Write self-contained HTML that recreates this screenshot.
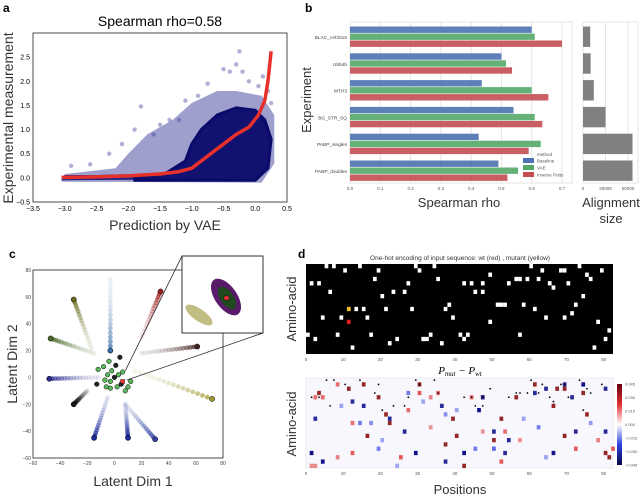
<!DOCTYPE html>
<html><head><meta charset="utf-8">
<style>
html,body{margin:0;padding:0;background:#fff;}
svg{display:block;font-family:"Liberation Sans",sans-serif;}
</style></head>
<body>
<svg id="fig" width="640" height="498" viewBox="0 0 640 498" xmlns="http://www.w3.org/2000/svg">
<rect width="640" height="498" fill="#fff"/>
<g id="pa"></g>
<g id="pb"></g>
<g id="pc"></g>
<g id="pd"></g>
</svg>
<script>
// ---------- data ----------
// panel a
const aDense=[[-1.9,0.0],[-1.4,0.1],[-1.1,0.35],[-1.0,0.7],[-0.85,1.0],[-0.6,1.3],[-0.3,1.45],[0.0,1.4],[0.15,1.2],[0.25,0.8],[0.2,0.2],[0.0,-0.05],[-1.9,-0.05]];
const aSparse=[[-3.05,-0.03],[-3.0,0.08],[-2.2,0.2],[-2.0,0.5],[-1.7,0.9],[-1.3,1.2],[-1.0,1.55],[-0.6,1.8],[-0.3,1.8],[0.1,1.7],[0.3,1.3],[0.3,0.3],[0.1,-0.1],[-3.05,-0.08]];
const aBand=[[-3.05,-0.03],[-3.0,0.06],[-2.5,0.06],[-1.9,0.08],[-1.9,-0.04],[-3.05,-0.05]];
const aOutliers=[[-0.25,2.62],[-0.4,2.2],[-0.3,2.35],[-0.1,2.0],[0.05,1.9],[-1.8,1.48],[-1.2,1.2],[-1.5,1.1],[-2.1,0.7],[-2.6,0.28],[-2.9,0.25],[0.25,1.55],[0.12,2.1],[-0.5,2.25],[-0.75,1.95],[-0.9,1.7],[-1.35,1.2],[-1.9,1.0],[-1.6,0.9],[-2.3,0.5],[0.2,1.8],[-0.2,2.2],[-1.1,1.6]];
const aLineX=[-3.05,-2.5,-2.0,-1.5,-1.2,-1.0,-0.8,-0.5,-0.3,-0.1,0.05,0.15,0.2,0.25];
const aLineY=[0.01,0.02,0.04,0.08,0.13,0.2,0.4,0.7,0.9,1.05,1.3,1.6,2.0,2.62];
const aXTicks=[-3.5,-3.0,-2.5,-2.0,-1.5,-1.0,-0.5,0.0,0.5];
const aYTicks=[-0.5,0.0,0.5,1.0,1.5,2.0,2.5];
// panel b
const bCats=["BLAC_cef2015","Ubb4b","MTH3","BG_STR_SQ","PABP_singles","PABP_doubles"];
const bBaseline=[0.60,0.50,0.435,0.54,0.425,0.49];
const bVAE=[0.61,0.515,0.60,0.61,0.63,0.555];
const bInverse=[0.70,0.535,0.655,0.635,0.59,0.52];
const bAlign=[8000,8500,12000,25000,55000,55000];
const bXTicks=[0,0.1,0.2,0.3,0.4,0.5,0.6,0.7];
const bAlignTicks=[0,25000,50000];
// panel c arms: [x1,y1,x2,y2,color]
const cArms=[[-3,20,-3,73,"#3a6fa8"],[-30,58,-17,22,"#6b6b20"],[-47,29,-15,18,"#4a6a2a"],[-48,-1,-12,0,"#2a2a90"],[-30,-20,-20,-10,"#111"],[-15,-45,-5,-15,"#1a2a9a"],[10,-45,8,-20,"#1a2a9a"],[30,-46,8,-20,"#3040a0"],[72,-16,15,5,"#a09a30"],[61,23,20,18,"#442222"],[34,64,20,30,"#a02020"]];
const cCenter=[[0,0],[-3,-3],[3,2],[-5,2],[5,-5],[2,-7],[-2,5],[-6,-7],[1,9],[-3,-8],[6,4],[-7,-2],[-13,-5],[-12,6],[8,-10],[-4,12],[4,15],[10,-7],[12,-3],[-8,8]];
const cXTicks=[-60,-40,-20,0,20,40,60,80];
const cYTicks=[-60,-40,-20,0,20,40,60,80];
// panel d top: white cells [pos,row]
const dWhite=[[5,0],[7,0],[10,1],[14,0],[19,1],[29,0],[30,1],[34,0],[18,3],[1,4],[3,4],[27,4],[6,6],[23,6],[26,6],[20,7],[35,3],[42,4],[44,4],[47,4],[49,2],[45,6],[47,6],[54,4],[56,3],[57,3],[59,3],[62,3],[60,0],[63,1],[68,1],[69,1],[73,0],[75,2],[76,3],[79,1],[65,4],[66,5],[70,4],[74,7],[51,9],[52,9],[53,9],[58,9],[61,10],[72,9],[71,11],[64,12],[69,12],[78,13],[13,10],[15,10],[21,10],[28,10],[37,10],[38,9],[4,12],[9,12],[16,12],[39,12],[49,13],[0,16],[2,17],[8,16],[17,16],[31,17],[32,17],[33,16],[41,16],[43,16],[42,17],[24,17],[22,18],[36,18],[12,19],[57,16],[77,19],[80,17],[81,15]];
const dMutant=[11,10];
const dWt=[11,13];
// panel d bottom: [pos,row,value]
const dRed=[[2.6,3,0.03],[7.7,1,0.02],[14.6,1,0.03],[10.7,2,0.03],[18.7,4,0.03],[21,8,0.03],[16.4,13,0.03],[21.5,10,0.03],[26.7,7,0.02],[29.5,1,0.03],[29.7,3,0.025],[36.8,15,0.03],[34.7,3,0.02],[38.6,9,0.03],[39.5,13,0.03],[41.5,20,0.03],[46.6,4,0.02],[49.5,14,0.03],[51.5,9,0.03],[55.6,4,0.03],[60.7,1,0.03],[66.9,2,0.03],[66.4,6,0.03],[68.5,2,0.03],[73.6,3,0.03],[74.5,8,0.03],[69.3,13,0.03],[71.5,16,0.025],[79.8,17,0.03],[80.7,18,0.03],[81.6,16,0.025],[12.3,17,0.025],[24.6,18,0.025],[52.4,19,0.025],[53.4,12,0.02],[1,20,0.012],[2,20,0.012],[12,10,0.02],[1.6,4,0.02],[3.5,4,0.02],[32.6,4,0.015],[44.2,4,0.02],[8,18,0.015],[33,11,0.01],[57,14,0.012],[47,12,0.01],[78,14,0.015]];
const dBlue=[[3.7,19,0.035],[11.5,5,0.03],[14.6,6,0.03],[21.5,9,0.03],[25.8,12,0.03],[28.8,17,0.035],[35.9,6,0.03],[36.5,19,0.03],[41.5,17,0.035],[47.1,4,0.03],[45.5,7,0.035],[50,12,0.03],[52.6,17,0.03],[53.7,14,0.03],[60.7,3,0.03],[63.8,2,0.03],[68.6,1,0.03],[73.7,1,0.035],[70.5,4,0.03],[66.4,17,0.035],[72.2,12,0.03],[79.5,12,0.03],[79.8,2,0.03],[61.7,11,0.02],[0.7,17,0.035],[1.8,9,0.03],[13.7,10,0.02],[17.1,10,0.015],[18.7,16,0.02],[26.9,3,0.02],[36.7,8,0.015],[45,16,0.02],[50.2,16,0.025],[9,6,0.01],[20,14,0.01],[31,5,0.01],[40,7,0.01],[58,9,0.01],[76,10,0.012],[64,18,0.01],[24,20,0.01]];
const cbTicks=[0.045,0.03,0.015,0,-0.015,-0.03,-0.045];

// ---------- helpers ----------
const NS="http://www.w3.org/2000/svg";
function mk(parent,tag,attrs,text){const e=document.createElementNS(NS,tag);for(const k in attrs)e.setAttribute(k,attrs[k]);if(text!==undefined)e.textContent=text;parent.appendChild(e);return e;}
function lin(d0,d1,r0,r1){return v=>r0+(v-d0)/(d1-d0)*(r1-r0);}

// ---------- panel a ----------
(function(){
const g=document.getElementById('pa');
const X=lin(-3.5,0.5,33,287),Y=lin(-0.5,3.0,202,33);
let t=mk(g,'text',{x:3,y:12,'font-size':12,'font-weight':'bold'},'a');
t=mk(g,'text',{x:160,y:26,'font-size':14,'text-anchor':'middle'},'Spearman rho=0.58');
let p=mk(g,'polygon',{points:aSparse.map(d=>X(d[0])+','+Y(d[1])).join(' '),fill:'#2a2a90','fill-opacity':0.45});
p=mk(g,'polygon',{points:aBand.map(d=>X(d[0])+','+Y(d[1])).join(' '),fill:'#0a0a70','fill-opacity':0.8});
p=mk(g,'polygon',{points:aDense.map(d=>X(d[0])+','+Y(d[1])).join(' '),fill:'#0a0a6a','fill-opacity':0.95,'stroke':'#0a0a6a','stroke-width':3,'stroke-linejoin':'round'});
aOutliers.forEach(d=>{const c=mk(g,'circle',{cx:X(d[0]),cy:Y(d[1]),r:2.2,fill:'#3a3a9a','fill-opacity':0.4});});
p=mk(g,'polyline',{points:aLineX.map((x,i)=>X(x)+','+Y(aLineY[i])).join(' '),fill:'none',stroke:'#e8302a','stroke-width':3.5,'stroke-linejoin':'round'});
const fr=mk(g,'rect',{x:33,y:33,width:254,height:169,fill:'none',stroke:'#222','stroke-width':0.8});
aXTicks.forEach(v=>{const l=mk(g,'text',{x:X(v),y:211,'font-size':7,'text-anchor':'middle'},v.toFixed(1).replace('-','−'));});
aYTicks.forEach(v=>{const l=mk(g,'text',{x:30,y:Y(v)+2.5,'font-size':7,'text-anchor':'end'},v.toFixed(1).replace('-','−'));});
t=mk(g,'text',{x:165,y:230,'font-size':14,'text-anchor':'middle',fill:'#333'},'Prediction by VAE');
t=mk(g,'text',{x:0,y:0,'font-size':14,'text-anchor':'middle',fill:'#333',transform:'translate(13,118) rotate(-90)'},'Experimental measurement');
})();

// ---------- panel b ----------
(function(){
const g=document.getElementById('pb');
const X=lin(0,0.7,350,562);
const top=22,band=26.8,bh=7;
let t=mk(g,'text',{x:305,y:12,'font-size':12,'font-weight':'bold'},'b');
mk(g,'rect',{x:350,y:22,width:222,height:161,fill:'#fff',stroke:'#e4e4e4'});
bXTicks.forEach(v=>{mk(g,'line',{x1:X(v),x2:X(v),y1:22,y2:183,stroke:'#e4e4e4','stroke-width':1});const l=mk(g,'text',{x:X(v),y:190,'font-size':4.5,'text-anchor':'middle',fill:'#555'},v.toFixed(1));});
const series=[[bBaseline,'#4c72b0','baseline'],[bVAE,'#55a868','vae'],[bInverse,'#c44e52','inverse-potts']];
bCats.forEach((c,i)=>{
 const y0=top+i*band+4.5;
 series.forEach((s,j)=>{const r=mk(g,'rect',{x:350,y:y0+j*bh,width:X(s[0][i])-350,height:bh-0.6,fill:s[1],'fill-opacity':0.9});});
 const l=mk(g,'text',{x:347,y:y0+bh*1.5+2,'font-size':4.8,'text-anchor':'end',fill:'#444'},c);
});
const lg=mk(g,'g',{});
mk(lg,'text',{x:537,y:156,'font-size':4.5,fill:'#555'},'method');
[['Baseline','#4c72b0'],['VAE','#55a868'],['Inverse Potts','#c44e52']].forEach((s,k)=>{const e=mk(lg,'g',{});mk(e,'rect',{x:523,y:158+k*7,width:11,height:5,fill:s[1]});mk(e,'text',{x:537,y:162.5+k*7,'font-size':4.5,fill:'#555'},s[0]);});
t=mk(g,'text',{x:459,y:207,'font-size':13,'text-anchor':'middle',fill:'#333'},'Spearman rho');
t=mk(g,'text',{x:0,y:0,'font-size':13,'text-anchor':'middle',fill:'#333',transform:'translate(311,100) rotate(-90)'},'Experiment');
const XA=lin(0,50000,583,628);
mk(g,'rect',{x:583,y:22,width:55,height:161,fill:'#fff',stroke:'#e4e4e4'});
bAlignTicks.forEach(v=>{mk(g,'line',{x1:XA(v),x2:XA(v),y1:22,y2:183,stroke:'#e4e4e4'});const l=mk(g,'text',{x:XA(v),y:190,'font-size':4.5,'text-anchor':'middle',fill:'#555'},String(v));});
bAlign.forEach((v,i)=>{const r=mk(g,'rect',{x:583,y:top+i*band+4.5,width:XA(v)-583,height:bh*3-0.6,fill:'#808080'});});
t=mk(g,'text',{x:611,y:207,'font-size':13,'text-anchor':'middle',fill:'#333'},'Alignment');
mk(g,'text',{x:611,y:223,'font-size':13,'text-anchor':'middle',fill:'#333'},'size');
})();

// ---------- panel c ----------
(function(){
const g=document.getElementById('pc');
const X=lin(-60,80,33,223),Y=lin(-60,80,458,270);
let t=mk(g,'text',{x:9,y:258,'font-size':12,'font-weight':'bold'},'c');
cArms.forEach((a,i)=>{
 const n=16;
 for(let k=0;k<=n;k++){const f=k/n;const c=mk(g,'circle',{cx:X(a[0]+(a[2]-a[0])*f),cy:Y(a[1]+(a[3]-a[1])*f),r:2.4,fill:a[4],'fill-opacity':(0.1+0.7*Math.pow(1-f,2)).toFixed(2)});}
 const e=mk(g,'circle',{cx:X(a[0]),cy:Y(a[1]),r:2.6,fill:a[4],stroke:'#000','stroke-width':0.5});
});
cCenter.forEach((d,i)=>{const c=mk(g,'circle',{cx:X(d[0]),cy:Y(d[1]),r:2.3,fill:i%4==0?'#222':'#5cb85c',stroke:'#000','stroke-width':0.5});});
mk(g,'rect',{x:X(6)-2,y:Y(-3)-2,width:4,height:4,fill:'#e33',stroke:'#000','stroke-width':0.4});
mk(g,'rect',{x:33,y:270,width:190,height:188,fill:'none',stroke:'#222','stroke-width':0.8});
cXTicks.forEach(v=>{const l=mk(g,'text',{x:X(v),y:465,'font-size':5,'text-anchor':'middle',fill:'#444'},String(v).replace('-','−'));});
cYTicks.forEach(v=>{const l=mk(g,'text',{x:31,y:Y(v)+2,'font-size':5,'text-anchor':'end',fill:'#444'},String(v).replace('-','−'));});
t=mk(g,'text',{x:133,y:486,'font-size':14,'text-anchor':'middle',fill:'#333'},'Latent Dim 1');
t=mk(g,'text',{x:0,y:0,'font-size':14,'text-anchor':'middle',fill:'#333',transform:'translate(17,364) rotate(-90)'},'Latent Dim 2');
const ins=mk(g,'g',{});
mk(ins,'line',{x1:X(8),y1:Y(5),x2:182,y2:256,stroke:'#222','stroke-width':0.8});
mk(ins,'line',{x1:X(9),y1:Y(-2),x2:263,y2:333,stroke:'#222','stroke-width':0.8});
mk(ins,'rect',{x:182,y:256,width:81,height:77,fill:'#fff',stroke:'#333','stroke-width':1});
mk(ins,'ellipse',{cx:199,cy:315,rx:16,ry:6,fill:'#a09a40','fill-opacity':0.65,transform:'rotate(35 199 315)'});
mk(ins,'ellipse',{cx:226,cy:297,rx:21,ry:11,fill:'#5a1a6a',transform:'rotate(55 226 297)'});
mk(ins,'ellipse',{cx:227,cy:298,rx:13,ry:6.5,fill:'#1e4a1e',transform:'rotate(55 227 298)'});
mk(ins,'rect',{x:224,y:296,width:5,height:4,fill:'#e33',stroke:'#000','stroke-width':0.4});
})();

// ---------- panel d ----------
(function(){
const g=document.getElementById('pd');
const x0=306,x1=613,NP=82.5,NR=21;
const CX=lin(0,NP,x0,x1);
const cw=(x1-x0)/NP;
let t=mk(g,'text',{x:298,y:258,'font-size':12,'font-weight':'bold'},'d');
t=mk(g,'text',{x:460,y:260,'font-size':6.5,'text-anchor':'middle',fill:'#333'},'One-hot encoding of input sequence: wt (red) , mutant (yellow)');
const ty0=264,ty1=354,RY=lin(0,NR,ty0,ty1),rh=(ty1-ty0)/NR;
let bg=mk(g,'rect',{x:x0,y:ty0,width:x1-x0,height:ty1-ty0,fill:'#000'});
dWhite.forEach(d=>{const r=mk(g,'rect',{x:CX(d[0]),y:RY(d[1]),width:cw,height:rh,fill:'#fff'});});
let r=mk(g,'rect',{x:CX(dMutant[0]),y:RY(dMutant[1]),width:cw,height:rh,fill:'#f0c020'});
r=mk(g,'rect',{x:CX(dWt[0]),y:RY(dWt[1]),width:cw,height:rh,fill:'#e02020'});
for(let v=0;v<=80;v+=10){const l=mk(g,'text',{x:CX(v),y:361,'font-size':4.5,'text-anchor':'middle',fill:'#555'},String(v));}
t=mk(g,'text',{x:0,y:0,'font-size':13,'text-anchor':'middle',fill:'#333',transform:'translate(296,309) rotate(-90)'},'Amino-acid');
t=mk(g,'text',{x:460,y:374,'font-size':11,'text-anchor':'middle','font-style':'italic','font-family':'Liberation Serif, serif'});
mk(t,'tspan',{},'P');mk(t,'tspan',{'font-size':7,dy:2},'mut');mk(t,'tspan',{dy:-2},' − P');mk(t,'tspan',{'font-size':7,dy:2},'wt');
const by0=378,by1=468,BY=lin(0,NR,by0,by1);
bg=mk(g,'rect',{x:x0,y:by0,width:x1-x0,height:by1-by0,fill:'#f7f7fd',stroke:'#ddd','stroke-width':0.5});
dRed.forEach(d=>{const a=Math.min(1,d[2]/0.035);const c=mk(g,'rect',{x:CX(Math.round(d[0])),y:BY(Math.round(d[1])),width:cw,height:rh,fill:a>0.75?'#8b1010':'#e03030','fill-opacity':(0.3+0.7*a).toFixed(2)});});
dBlue.forEach(d=>{const a=Math.min(1,d[2]/0.035);const c=mk(g,'rect',{x:CX(Math.round(d[0])),y:BY(Math.round(d[1])),width:cw,height:rh,fill:a>0.85?'#10108a':'#3040e0','fill-opacity':(0.25+0.75*a).toFixed(2)});});
dWhite.slice(0,40).forEach(d=>{const c=mk(g,'circle',{cx:CX(d[0])+cw/2,cy:BY(d[1])+rh/2,r:0.9,fill:'#000'});});
for(let v=0;v<=80;v+=10){const l=mk(g,'text',{x:CX(v),y:475,'font-size':4.5,'text-anchor':'middle',fill:'#555'},String(v));}
t=mk(g,'text',{x:0,y:0,'font-size':13,'text-anchor':'middle',fill:'#333',transform:'translate(296,424) rotate(-90)'},'Amino-acid');
t=mk(g,'text',{x:460,y:494,'font-size':13,'text-anchor':'middle',fill:'#333'},'Positions');
const defs=mk(document.getElementById('fig'),'defs',{});
const lgd=mk(defs,'linearGradient',{id:'cb',x1:0,y1:0,x2:0,y2:1});
[['0','#67000d'],['0.25','#e03030'],['0.5','#ffffff'],['0.75','#3040e0'],['1','#08084a']].forEach(s=>mk(lgd,'stop',{offset:s[0],'stop-color':s[1]}));
const CB=lin(0.045,-0.045,384,465);
const cb=mk(g,'rect',{x:617,y:384,width:5,height:81,fill:'url(#cb)'});
cbTicks.forEach(v=>{const l=mk(g,'text',{x:625,y:CB(v)+1.5,'font-size':4,fill:'#555'},v.toFixed(3).replace('-','−'));});
})();
</script>
</body></html>
